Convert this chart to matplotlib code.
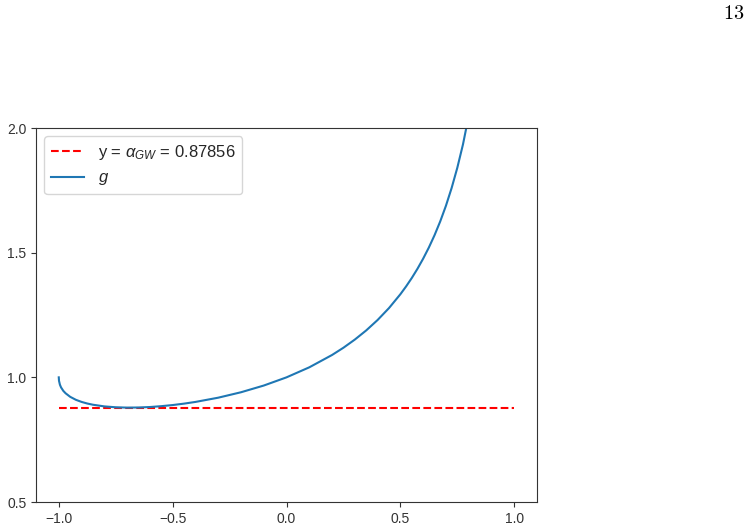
import matplotlib
matplotlib.use("Agg")
import matplotlib.pyplot as plt

plt.rcParams['font.family'] = ['Liberation Sans', 'DejaVu Sans']
plt.rcParams['mathtext.fontset'] = 'custom'
plt.rcParams['mathtext.rm'] = 'Liberation Sans'
plt.rcParams['mathtext.it'] = 'Liberation Sans:italic'
plt.rcParams['text.color'] = '#262626'
plt.rcParams['xtick.color'] = '#333333'
plt.rcParams['ytick.color'] = '#333333'
plt.rcParams['axes.edgecolor'] = '#333333'

alpha_gw = 0.87856
line_x = [-1.0, 1.0]

# g
g_x = [-1.0, -0.999, -0.995, -0.99, -0.98, -0.97, -0.95, -0.925, -0.9, -0.875,
       -0.85, -0.8, -0.75, -0.7, -0.65, -0.6, -0.55, -0.5, -0.45, -0.4, -0.3,
       -0.2, -0.1, 0.0, 0.1, 0.2, 0.25, 0.3, 0.35, 0.4, 0.45, 0.5, 0.525, 0.55,
       0.575, 0.6, 0.625, 0.65, 0.675, 0.7, 0.725, 0.75, 0.775, 0.8, 0.85]
g_y = [1.0, 0.9863, 0.9706, 0.9597, 0.9457, 0.9361, 0.9220, 0.9100, 0.9015, 0.8951,
       0.8902, 0.8835, 0.8800, 0.8786, 0.8791, 0.8810, 0.8844, 0.8889, 0.8946, 0.9014, 0.9184,
       0.9402, 0.9671, 1.0, 1.0402, 1.0897, 1.1188, 1.1515, 1.1882, 1.2300, 1.2778, 1.3333, 1.3645, 1.3983,
       1.4353, 1.4759, 1.5205, 1.5700, 1.6254, 1.6879, 1.7591, 1.8404, 1.9345, 2.0484, 2.3548]

fig = plt.figure(figsize=(7.5, 5.29), dpi=100)
ax = fig.add_axes([0.048, 0.051, 0.668, 0.707])

ax.plot(line_x, [alpha_gw] * len(line_x), 'r--', label=r'y = $\alpha_{GW}$ = 0.87856')
ax.plot(g_x, g_y, label=r'$g$')

ax.set_xlim(-1.1, 1.1)
ax.set_ylim(0.5, 2.0)
ax.set_xticks([-1.0, -0.5, 0.0, 0.5, 1.0])
ax.set_yticks([0.5, 1.0, 1.5, 2.0])
ax.legend(loc='upper left', fontsize=12)

fig.text(0.992, 0.992, r'$\mathrm{13}$', math_fontfamily='cm', fontsize=14.5,
         ha='right', va='top', color='black')

plt.savefig('out.png', dpi=100)
